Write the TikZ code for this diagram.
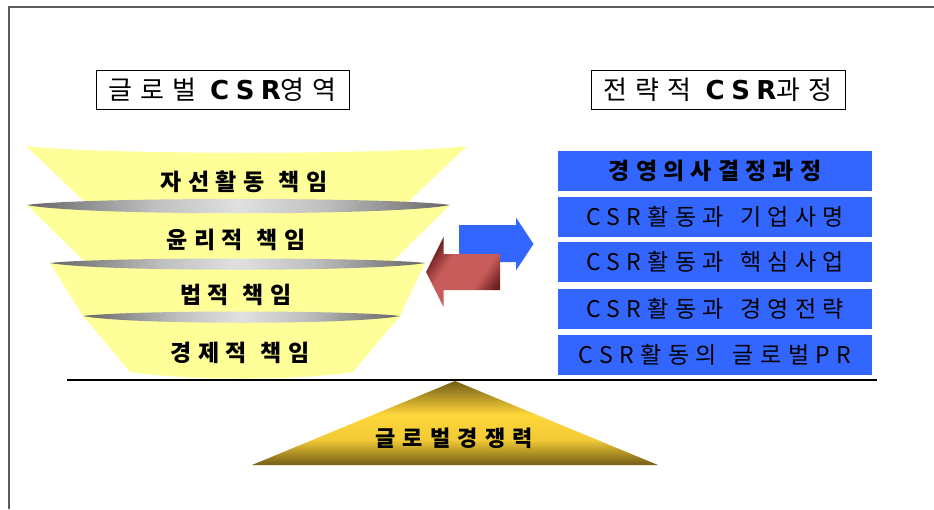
\documentclass[tikz,border=0pt]{standalone}
\usepackage{fontspec}
\setmainfont{Noto Sans CJK KR}
\newfontfamily\heavy[LetterSpace=24]{DejaVu Sans}
\definecolor{fyel}{RGB}{255,255,153}
\definecolor{bbox}{RGB}{51,102,255}
\definecolor{redL}{RGB}{200,92,90}
\definecolor{redD}{RGB}{105,30,30}
\definecolor{goldL}{RGB}{255,214,58}
\definecolor{goldD}{RGB}{115,92,22}
\definecolor{framec}{RGB}{90,90,90}
\pgfdeclarehorizontalshading{redsh}{100bp}{color(0bp)=(redD); color(25bp)=(redD); color(38bp)=(redL); color(62bp)=(redL); color(75bp)=(redD); color(100bp)=(redD)}
\pgfdeclarehorizontalshading{lenssh}{100bp}{color(0bp)=(black!60); color(25bp)=(black!60); color(40bp)=(black!25); color(50bp)=(black!12); color(60bp)=(black!25); color(75bp)=(black!60); color(100bp)=(black!60)}
\pgfdeclareverticalshading{goldsh}{100bp}{color(0bp)=(goldD); color(25bp)=(goldD); color(40bp)=(goldL!90!goldD); color(55bp)=(goldL); color(75bp)=(goldD); color(100bp)=(goldD)}
\tikzset{
  titlebox/.style={draw=black, line width=1pt, minimum height=39pt, inner sep=0pt,
    font=\fontsize{26}{26}\selectfont\addfontfeature{LetterSpace=31}},
  bluebox/.style={fill=bbox, minimum width=314pt, minimum height=40pt, inner sep=0pt,
    font=\fontsize{23}{23}\selectfont\addfontfeature{LetterSpace=28}},
  layertext/.style={inner sep=0pt, font=\fontsize{23}{23}\selectfont\bfseries\addfontfeature{LetterSpace=28}},
  lens/.style={shading=lenssh},
}
\begin{document}
\begin{tikzpicture}[x=1pt,y=-1pt]
\useasboundingbox (0,0) rectangle (934,509);
% frame
\draw[framec, line width=1.6pt] (9,509) -- (9,7) -- (934,7);

% titles
\node[titlebox, minimum width=253pt] (t1) at (222.5,89.5) {글로벌\hspace{14pt}{\heavy\bfseries CSR}영역};
\node[titlebox, minimum width=254pt] (t2) at (718,89.5) {전략적\hspace{14pt}{\heavy\bfseries CSR}과정};

% funnel layers
\fill[fyel] (26,146) .. controls (100,155) and (393,155) .. (467,146) -- (404,206) -- (89,206) -- cycle;
\fill[fyel] (27,205) -- (450,205) -- (391,263) -- (86,263) -- cycle;
\fill[fyel] (50,263) -- (425,263) -- (400,316) -- (83,316) -- cycle;
\fill[fyel] (83,316) -- (400,316) -- (353,372) .. controls (290,381) and (195,381) .. (130,372) -- cycle;
\shade[lens] (27,205) .. controls (80,197) and (397,197) .. (450,205) .. controls (397,216) and (80,216) .. cycle;
\shade[lens] (50,263) .. controls (100,257) and (375,257) .. (425,263) .. controls (375,272) and (100,272) .. cycle;
\shade[lens] (83,316) .. controls (130,310) and (353,310) .. (400,316) .. controls (353,325) and (130,325) .. cycle;

\node[layertext] (l1) at (244,182) {자선활동\hspace{14pt}책임};
\node[layertext] (l2) at (236,240) {윤리적\hspace{14pt}책임};
\node[layertext] (l3) at (236,295) {법적\hspace{14pt}책임};
\node[layertext] (l4) at (240,353) {경제적\hspace{14pt}책임};

% blue boxes
\node[bluebox, font=\fontsize{23}{23}\selectfont\bfseries\addfontfeature{LetterSpace=27}] (b1) at (715,171) {경영의사결정과정};
\node[bluebox] (b2) at (715,216.7) {CSR활동과\hspace{16pt}기업사명};
\node[bluebox] (b3) at (715,262) {CSR활동과\hspace{16pt}핵심사업};
\node[bluebox] (b4) at (715,308.5) {CSR활동과\hspace{16pt}경영전략};
\node[bluebox] (b5) at (715,355) {CSR활동의\hspace{16pt}글로벌PR};

% arrows
\fill[bbox] (459,225) -- (516,225) -- (516,217.5) -- (533.5,244) -- (516,270.5) -- (516,262) -- (459,262) -- cycle;
\shade[shading=redsh, shading angle=-35]
  (500,254) -- (443.5,254) -- (443.5,237) -- (426,272) -- (443.5,307) -- (443.5,290) -- (500,290) -- cycle;

% base line
\draw[black, line width=2pt] (67,380) -- (877,380);

% triangle
\shade[shading=goldsh] (455,381) -- (658,465) -- (252,465) -- cycle;
\node[inner sep=0pt, font=\fontsize{22}{22}\selectfont\bfseries\addfontfeature{LetterSpace=33}] (gc) at (454,438) {글로벌경쟁력};
\end{tikzpicture}
\end{document}
